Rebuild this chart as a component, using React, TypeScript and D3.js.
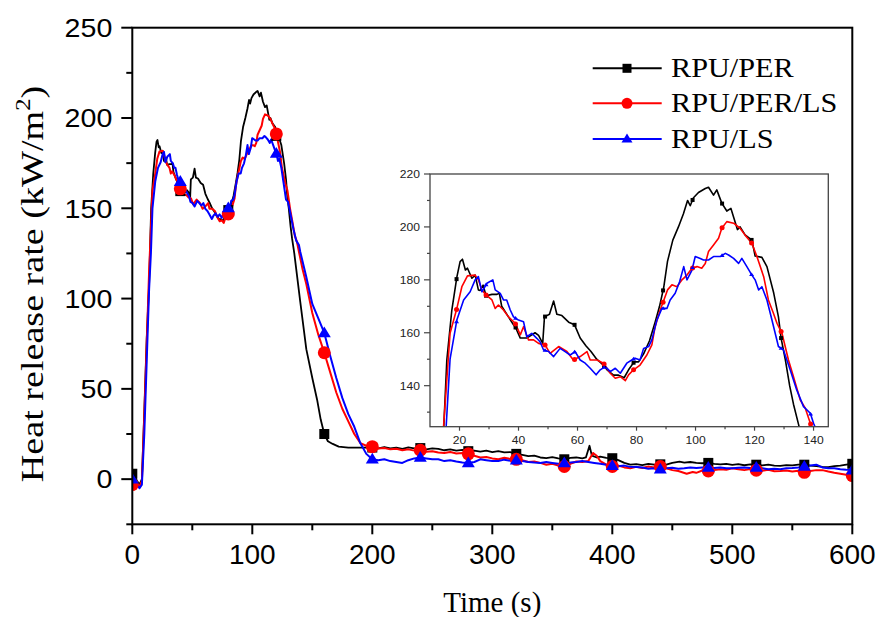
import React from "react";
import * as d3 from "d3";

// ---------- DATA ----------
const seriesNames = ["RPU/PER", "RPU/PER/LS", "RPU/LS"];
const seriesColors = ["#000000", "#ff0000", "#0000ff"];

const perTime = [0, 2, 4, 6, 8, 10, 12, 14, 15.7, 17.4, 19.1, 20.2, 21, 22, 22.7, 24.2, 25.3, 26.4, 27, 28, 29, 31, 32.7, 33.5, 34.3, 36.6, 38.3, 39, 40.6, 42.8, 45.6, 46.8, 48.2, 48.8, 50.5, 51.9, 53, 54.7, 57, 59, 60.9, 62.9, 64.5, 66.5, 68.6, 70, 72.2, 73.9, 75.8, 77.3, 79.2, 80.7, 82.4, 84.4, 86.3, 87.8, 89.2, 90.5, 92.3, 94.2, 95.9, 97.3, 98.2, 99.3, 101, 103.3, 104.4, 106.1, 107.2, 108.9, 110.6, 112, 113.1, 114.2, 115.1, 116.8, 119.1, 120.2, 122.5, 124.2, 126.5, 128.1, 129, 130.4, 131.9, 133.2, 135, 140, 145, 150, 154, 157, 160, 163, 167, 172, 180, 190, 200,
  205, 210, 215, 220, 225, 230, 235, 240, 245, 250, 255, 260, 265, 270, 275, 280, 285, 290, 295, 300, 305, 310, 315, 320, 325, 330, 335, 340, 345, 350, 355, 360, 365, 370, 375, 378, 381, 383, 387, 390, 395, 400, 405, 410, 415, 420, 425, 430, 435, 440, 445, 450, 456, 460, 465, 470, 475, 480, 485, 490, 495, 500, 505, 510, 515, 520, 525, 530, 535, 540, 545, 550, 555, 560, 565, 570, 575, 580, 585, 590, 595, 600];
const perValue = [3, 1.5, -1, -3, 0, 38, 78, 108, 149.7, 168.6, 181, 186.9, 187.8, 183.7, 184.4, 180.6, 181.8, 176.2, 176, 178, 174, 174.5, 174.5, 175, 170, 166, 163, 162, 158, 158, 160, 159, 156, 166, 167, 172, 167, 166.5, 164, 163, 158, 155, 153, 150, 148, 146, 144, 144, 143, 146, 149, 149, 152, 157, 164, 170, 177, 187, 195, 200, 205, 210, 208, 211, 213, 214.5, 215, 212, 214, 209, 206, 207, 203, 199, 200, 197, 195, 189, 188.5, 185, 175, 166, 158, 150, 140, 133, 125, 98, 72, 56, 44, 33, 25, 21, 19.5, 18, 17.5, 17.5, 17.5,
  17, 17.8, 17, 17.5, 16.8, 17.6, 17, 17.2, 16.5, 17, 16.8, 16, 16.5, 15.8, 16.2, 15.5, 15.8, 15.3, 15.8, 15, 15.5, 14.8, 15, 14, 13.5, 12.8, 13, 12, 11.6, 12.2, 11.5, 11, 11.8, 12, 11.5, 12, 18.5, 13, 12, 12.5, 11.8, 11.6, 10.5, 9, 8, 8.3, 7.8, 8.5, 8, 8.2, 8, 9, 9.7, 9.2, 9.5, 9, 8.8, 9, 8.5, 8.2, 8.5, 7.9, 8.3, 7.7, 8.2, 8, 7.6, 8, 7.5, 7.4, 7.8, 7.6, 8, 8, 7.5, 7.2, 6.8, 6.7, 7.2, 7.5, 8, 8.5];

const perLsTime = [0, 2, 4, 6, 8, 10, 12, 14, 16.8, 19.1, 20.8, 22.7, 25.3, 26.4, 27.6, 29, 31, 32.1, 33.2, 34.9, 36.6, 38.9, 40.6, 41.7, 43.4, 45.1, 46.8, 49, 50.7, 53.6, 56.4, 58.6, 60.9, 63.2, 64.3, 66.6, 68.8, 71.1, 72.8, 74.5, 76.2, 77.3, 79, 81.2, 83.5, 85.2, 86.3, 88, 89.1, 90.5, 92, 93.7, 95.4, 97.1, 98.8, 100.5, 102.1, 103.3, 104.4, 106.1, 107.8, 108.9, 110.6, 112.9, 115.1, 116.8, 119.1, 120.8, 123.1, 124.7, 126.4, 127.6, 129.3, 131.5, 133.2, 135.5, 137.2, 138.9, 142, 145, 150, 155, 160, 165, 170, 175, 180, 185, 190, 195, 200,
  205, 210, 215, 220, 225, 230, 235, 240, 245, 250, 255, 260, 265, 270, 275, 280, 285, 290, 295, 300, 305, 310, 315, 320, 325, 330, 335, 340, 345, 350, 355, 360, 365, 370, 375, 380, 384, 387, 390, 395, 400, 405, 410, 415, 420, 425, 430, 435, 440, 445, 450, 455, 462, 467, 470, 475, 480, 485, 490, 495, 500, 505, 510, 515, 520, 525, 530, 535, 540, 545, 550, 555, 560, 565, 570, 575, 580, 585, 590, 595, 600];
const perLsValue = [-3, -2, -3, -4, -1, 35, 75, 115, 159.8, 169.2, 177.4, 181.5, 181.8, 180, 176.2, 174.3, 172.4, 169.2, 170.5, 168.6, 166, 163.6, 159.2, 162.3, 157.3, 157.3, 156, 155.4, 152.2, 154.8, 152.9, 149.7, 151, 152.9, 149.7, 149.7, 148.5, 144.7, 142.8, 143.4, 141.9, 144.1, 146, 147.8, 151.6, 155.4, 162.3, 168.6, 171.8, 176.2, 178.1, 177.4, 180, 181.8, 184.4, 185, 184.4, 186.2, 190.7, 193.2, 195.7, 199.5, 202, 201.4, 199.5, 196.9, 193.8, 188.8, 181.2, 172.4, 167.4, 163.6, 159.8, 149.7, 143.4, 134.6, 131.5, 125.8, 116, 108, 92, 80, 70, 59, 48, 39, 32, 25, 20, 18.5, 18,
  17, 17.2, 16.5, 16.8, 16, 16.5, 15.8, 16, 15.2, 15.5, 14.8, 14.5, 15, 14.2, 14.5, 14, 13, 12, 12.3, 11.5, 11, 11.8, 11.2, 11, 10.5, 9.5, 9.8, 9, 8, 8.5, 7.5, 7, 8.5, 9.8, 9.5, 10, 14.5, 13, 10, 8, 7, 7.5, 6.5, 6, 6.8, 6.2, 7, 6.5, 7, 6, 5, 4.5, 3, 4, 3.5, 4.8, 4.5, 5, 5.5, 5.2, 6, 5.5, 5, 5.6, 5, 4.6, 5.2, 4.4, 4.5, 4.8, 4.2, 4.6, 3.8, 4.5, 5, 5, 4.2, 3.5, 3, 2.5, 2];

const lsTime = [0, 2, 4, 6, 8, 10, 12, 14, 15.5, 16.8, 19.1, 21.4, 23.6, 25.3, 26.4, 27.6, 29.3, 31.3, 32.1, 33.8, 34.9, 36, 37.2, 38.3, 40, 41.7, 42.8, 44.5, 46.2, 47.3, 48.5, 50.2, 51.9, 54.1, 55.8, 57.5, 59.2, 60.9, 62.6, 64.3, 66.3, 67.7, 69.4, 71.1, 72.8, 74.5, 76.7, 78.4, 79.5, 81.2, 82.4, 84.1, 85.2, 86.9, 88.6, 90.3, 91.4, 93.1, 94.6, 96, 97.1, 98.8, 99.9, 101.6, 102.7, 104.4, 106.1, 108.4, 110.1, 111.2, 112.9, 114.6, 115.7, 117.4, 119.1, 120.2, 121.4, 122.5, 124.2, 125.9, 128.1, 129.8, 132.1, 134.3, 136.6, 138.9, 140, 145, 150, 155, 160, 165, 170, 175, 180, 185, 190, 195, 200,
  205, 210, 215, 220, 225, 230, 235, 240, 245, 250, 255, 260, 265, 270, 275, 280, 285, 290, 295, 300, 305, 310, 315, 320, 325, 330, 335, 340, 345, 350, 355, 360, 365, 370, 375, 380, 385, 390, 395, 400, 405, 410, 415, 420, 425, 430, 435, 440, 445, 450, 455, 460, 465, 470, 475, 480, 485, 490, 495, 500, 505, 510, 515, 520, 525, 530, 535, 540, 545, 550, 555, 560, 565, 570, 575, 580, 585, 590, 595, 600];
const lsValue = [0, -1, -3, -5, -3, 25, 65, 105, 125, 150, 164.8, 172.4, 175.5, 180, 181.2, 175.5, 178.7, 180, 176.2, 174.9, 172.4, 172.4, 168.6, 166, 164.8, 164.2, 158.5, 159.8, 157.9, 156.6, 153.5, 152.9, 151, 154.1, 152.9, 151.6, 152.9, 149.7, 148.5, 146.6, 144.1, 146, 147.2, 145.3, 146.6, 144.7, 148.5, 149.7, 150.4, 149.7, 154.1, 154.8, 157.3, 164.8, 169.2, 169.2, 172.4, 174.9, 179.3, 185, 180, 183.7, 188.8, 188.1, 187.5, 187.5, 188.8, 188.8, 190, 189.4, 188.1, 186.2, 188.1, 185, 181.8, 180, 176.2, 177.4, 172.4, 164.8, 154.8, 153.5, 145.9, 138.4, 132.1, 129.6, 125.8, 112, 97, 89, 81, 68, 56, 45, 36, 29, 20, 14, 11,
  10.5, 11, 10, 9.5, 9, 10.5, 11.5, 12, 11.5, 11, 11, 10, 10.5, 9.8, 9.2, 9, 9.5, 11, 10.5, 10, 10, 10.8, 10.2, 10.5, 10, 9.5, 9.2, 9, 9.5, 9, 8.5, 9, 9.2, 9.5, 10, 9.5, 9, 8.5, 8, 7.5, 7.2, 7.5, 6.8, 6.7, 6.5, 5.8, 6, 5.5, 6, 6.3, 5.8, 6, 6.5, 6.2, 6.5, 6.5, 6.2, 6.5, 6, 6, 6.3, 6.5, 6.2, 6.5, 6, 5.5, 5.8, 5.5, 6, 6.2, 6.5, 7, 7.5, 8, 6.5, 6, 6, 5.5, 5.2, 5];

const xTicks = [0, 100, 200, 300, 400, 500, 600];
const xMinor = [50, 150, 250, 350, 450, 550];
const yTicks = [0, 50, 100, 150, 200, 250];
const yMinor = [-25, 25, 75, 125, 175, 225];
const insetXTicks = [20, 40, 60, 80, 100, 120, 140];
const insetXMinor = [30, 50, 70, 90, 110, 130];
const insetYTicks = [140, 160, 180, 200, 220];
const insetYMinor = [130, 150, 170, 190, 210];
const markerTimes = [0, 40, 80, 120, 160, 200, 240, 280, 320, 360, 400, 440, 480, 520, 560, 600];
const insetMarkerTimes = [19, 29, 39, 49, 59, 69, 79, 89, 99, 109, 119, 129, 139];

const series = [
  { name: seriesNames[0], color: seriesColors[0], t: perTime, v: perValue, shape: "square" },
  { name: seriesNames[1], color: seriesColors[1], t: perLsTime, v: perLsValue, shape: "circle" },
  { name: seriesNames[2], color: seriesColors[2], t: lsTime, v: lsValue, shape: "triangle" },
];

function interp(t: number[], v: number[], x: number) {
  const i = d3.bisectLeft(t, x);
  if (i <= 0) return v[0];
  if (i >= t.length) return v[v.length - 1];
  const t0 = t[i - 1], t1 = t[i];
  return v[i - 1] + ((v[i] - v[i - 1]) * (x - t0)) / (t1 - t0);
}

function Marker({ shape, x, y, s, color }: any) {
  if (shape === "square") return <rect x={x - s / 2} y={y - s / 2} width={s} height={s} fill={color} />;
  if (shape === "circle") return <circle cx={x} cy={y} r={s / 2 + 0.5} fill={color} />;
  const h = s * 0.9;
  return <path d={`M${x},${y - h * 0.6}L${x + s / 2 + 0.5},${y + h * 0.4}L${x - s / 2 - 0.5},${y + h * 0.4}Z`} fill={color} />;
}

const SANS = "'Liberation Sans', Arial, sans-serif";
const SERIF = "'Liberation Serif', 'Times New Roman', serif";

export default function App() {
  const W = 880, H = 617;
  const x = d3.scaleLinear().domain([0, 600]).range([132.3, 852.3]);
  const y = d3.scaleLinear().domain([-25, 250]).range([524.3, 27.7]);
  const ix = d3.scaleLinear().domain([10, 145]).range([430, 828.3]);
  const iy = d3.scaleLinear().domain([124.5, 220]).range([426.7, 174]);

  const mainLine = (s: any) =>
    d3.line<number>().x((_, i) => x(s.t[i])).y((d) => y(d))(s.v) || "";
  const insetLine = (s: any) =>
    d3.line<number>().x((_, i) => ix(s.t[i])).y((d) => iy(d))(s.v) || "";

  const [x0, x1] = x.range();
  const [yb, yt] = y.range();
  const [ix0, ix1] = ix.range();
  const [iyb, iyt] = iy.range();

  const legendRows = [68.3, 103.3, 139];

  return (
    <svg width={W} height={H} style={{ position: "absolute", left: 0, top: 0, background: "#fff" }}>
      <defs>
        <clipPath id="mainClip">
          <rect x={x0} y={yt} width={x1 - x0} height={yb - yt} />
        </clipPath>
        <clipPath id="insetClip">
          <rect x={ix0} y={iyt} width={ix1 - ix0} height={iyb - iyt} />
        </clipPath>
      </defs>
      <rect x={0} y={0} width={W} height={H} fill="#fff" />

      {/* main curves */}
      <g clipPath="url(#mainClip)">
        {series.map((s, k) => (
          <path key={k} d={mainLine(s)} fill="none" stroke={s.color} strokeWidth={k === 0 ? 1.8 : 2} strokeLinejoin="round" />
        ))}
        {series.map((s, k) =>
          markerTimes.map((mt, j) => (
            <Marker key={`${k}-${j}`} shape={s.shape} x={x(mt)} y={y(interp(s.t, s.v, mt))} s={k === 0 ? 10 : 12} color={s.color} />
          ))
        )}
      </g>

      {/* main frame */}
      <rect x={x0} y={yt} width={x1 - x0} height={yb - yt} fill="none" stroke="#000" strokeWidth={2} />

      {/* x axis ticks */}
      {xTicks.map((t) => (
        <g key={`xt${t}`}>
          <line x1={x(t)} x2={x(t)} y1={yb} y2={yb + 10} stroke="#000" strokeWidth={2} />
          <text x={x(t)} y={yb + 40} textAnchor="middle" fontFamily={SANS} fontSize={28} fill="#000">{t}</text>
        </g>
      ))}
      {xMinor.map((t) => (
        <line key={`xm${t}`} x1={x(t)} x2={x(t)} y1={yb} y2={yb + 6} stroke="#000" strokeWidth={2} />
      ))}
      {/* y axis ticks */}
      {yTicks.map((t) => (
        <g key={`yt${t}`}>
          <line x1={x0 - 11} x2={x0} y1={y(t)} y2={y(t)} stroke="#000" strokeWidth={2} />
          <text transform={`translate(${x0 - 20},${y(t) + 9.3}) scale(1.1,1)`} textAnchor="end" fontFamily={SANS} fontSize={26} fill="#000">{t}</text>
        </g>
      ))}
      {yMinor.map((t) => (
        <line key={`ym${t}`} x1={x0 - 6} x2={x0} y1={y(t)} y2={y(t)} stroke="#000" strokeWidth={2} />
      ))}

      {/* axis titles */}
      <text x={(x0 + x1) / 2} y={612} textAnchor="middle" fontFamily={SERIF} fontSize={29} fill="#000">Time (s)</text>
      <text transform={`translate(43,284) rotate(-90) scale(1.23,1)`} textAnchor="middle" fontFamily={SERIF} fontSize={31} fill="#000">
        Heat release rate (kW/m<tspan dy={-13} fontSize={20}>2</tspan><tspan dy={13}>)</tspan>
      </text>

      {/* legend */}
      {series.map((s, k) => (
        <g key={`lg${k}`}>
          <line x1={592.7} x2={661.7} y1={legendRows[k]} y2={legendRows[k]} stroke={s.color} strokeWidth={2} />
          <Marker shape={s.shape} x={627} y={legendRows[k]} s={k === 0 ? 9 : 10} color={s.color} />
          <text transform={`translate(671,${legendRows[k] + 8.5}) scale(1.12,1)`} fontFamily={SERIF} fontSize={27} fill="#000">{s.name}</text>
        </g>
      ))}

      {/* inset */}
      <rect x={ix0} y={iyt} width={ix1 - ix0} height={iyb - iyt} fill="#fff" />
      <g clipPath="url(#insetClip)">
        {series.map((s, k) => (
          <path key={`il${k}`} d={insetLine(s)} fill="none" stroke={s.color} strokeWidth={1.6} strokeLinejoin="round" />
        ))}
        {series.map((s, k) =>
          insetMarkerTimes.map((mt, j) => (
            <Marker key={`im${k}-${j}`} shape={s.shape} x={ix(mt)} y={iy(interp(s.t, s.v, mt))} s={4} color={s.color} />
          ))
        )}
      </g>
      <rect x={ix0} y={iyt} width={ix1 - ix0} height={iyb - iyt} fill="none" stroke="#444" strokeWidth={1.3} />
      {insetXTicks.map((t) => (
        <g key={`ixt${t}`}>
          <line x1={ix(t)} x2={ix(t)} y1={iyb} y2={iyb + 4} stroke="#444" strokeWidth={1.2} />
          <text transform={`translate(${ix(t)},${iyb + 17}) scale(1.1,1)`} textAnchor="middle" fontFamily={SANS} fontSize={11} fill="#222">{t}</text>
        </g>
      ))}
      {insetXMinor.map((t) => (
        <line key={`ixm${t}`} x1={ix(t)} x2={ix(t)} y1={iyb} y2={iyb + 2.5} stroke="#444" strokeWidth={1.2} />
      ))}
      {insetYTicks.map((t) => (
        <g key={`iyt${t}`}>
          <line x1={ix0 - 6} x2={ix0} y1={iy(t)} y2={iy(t)} stroke="#444" strokeWidth={1.2} />
          <text transform={`translate(${ix0 - 10},${iy(t) + 4}) scale(1.1,1)`} textAnchor="end" fontFamily={SANS} fontSize={11} fill="#222">{t}</text>
        </g>
      ))}
      {insetYMinor.map((t) => (
        <line key={`iym${t}`} x1={ix0 - 3} x2={ix0} y1={iy(t)} y2={iy(t)} stroke="#444" strokeWidth={1.2} />
      ))}
    </svg>
  );
}
